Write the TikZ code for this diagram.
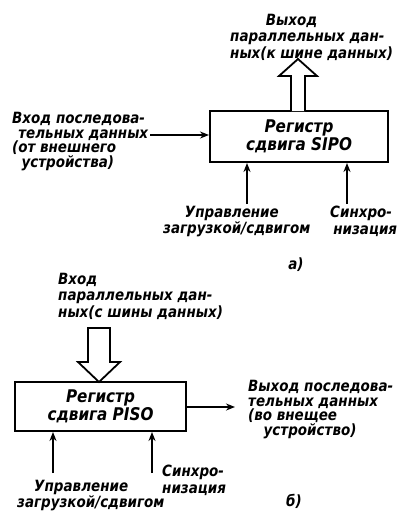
\documentclass[tikz,border=0pt]{standalone}
\usepackage{fontspec}
\setmainfont{DejaVu Sans}
\newfontfamily\lblfont[FakeStretch=0.87]{DejaVu Sans}
\usetikzlibrary{arrows.meta}
\begin{document}
\begin{tikzpicture}[x=1pt,y=-1pt,
  regbox/.style={draw, line width=2pt, minimum width=178pt, minimum height=51pt, inner sep=0pt, align=center},
  lbl/.style={inner sep=0pt, align=left, font=\lblfont\fontsize{15.5}{14.5}\selectfont\bfseries\itshape},
  lblwide/.style={lbl, font=\lblfont\fontsize{15.5}{16.3}\selectfont\bfseries\itshape},
  boxtxt/.style={font=\lblfont\fontsize{17.5}{16}\selectfont\bfseries\itshape},
  arr/.style={line width=1.8pt, -{Stealth[length=9pt,width=7pt]}},
  hollow/.style={draw, line width=1.8pt, fill=white, line join=miter}]
\useasboundingbox (0,0) rectangle (400,517);

% ---------------- (a) SIPO ----------------
\node[regbox, boxtxt] (sipo) at (299,136.5) {Регистр\\сдвига SIPO};

\node[lblwide, anchor=north west] (outA) at (230,14)
  {\hspace*{2.3em}Выход\\параллельных дан-\\ных(к шине данных)};
\coordinate (busA) at (298,111);
\draw[hollow] (busA) ++(-7,0) -- ++(0,-35) -- ++(-12,0) -- (298,59) -- ++(19,17) -- ++(-12,0) -- ++(0,35);

\node[lbl, anchor=north west] (inAtxt) at (12,112)
  {Вход последова-\\\hspace*{0.4em}тельных данных\\(от внешнего\\\hspace*{0.6em}устройства)};
\coordinate (inA) at (150,135);
\draw[arr] (inA) -- (inA -| sipo.west);

\coordinate (ctlA) at (247,204);
\coordinate (clkA) at (347,204);
\draw[arr] (ctlA) -- (ctlA |- sipo.south);
\draw[arr] (clkA) -- (clkA |- sipo.south);

\node[lblwide, anchor=north west] (ctlAtxt) at (163,206)
  {\hspace*{1.4em}Управление\\загрузкой/сдвигом};
\node[lblwide, anchor=north west] (clkAtxt) at (330,206)
  {Синхро-\\\hspace*{0.2em}низация};

\node[lbl, anchor=center] (capA) at (296,265) {а)};

% ---------------- (b) PISO ----------------
\node[regbox, boxtxt, minimum width=171pt, minimum height=49pt] (piso) at (100.5,406.5) {Регистр\\сдвига PISO};

\node[lblwide, anchor=north west] (inBtxt) at (58,273)
  {Вход\\параллельных дан-\\ных(с шины данных)};
\coordinate (busB) at (99,382);
\draw[hollow] (busB) -- ++(-21,-20) -- ++(10,0) -- ++(0,-34) -- ++(22,0) -- ++(0,34) -- ++(10,0) -- cycle;

\coordinate (outB) at (235,407);
\draw[arr] (outB -| piso.east) -- (outB);
\node[lbl, anchor=north west] (outBtxt) at (248,380)
  {Выход последова-\\тельных данных\\(во внещее\\\hspace*{1em}устройство)};

\coordinate (ctlB) at (53,473);
\coordinate (clkB) at (152,473);
\draw[arr] (ctlB) -- (ctlB |- piso.south);
\draw[arr] (clkB) -- (clkB |- piso.south);

\node[lblwide, anchor=north west] (ctlBtxt) at (17,480)
  {\hspace*{1.1em}Управление\\загрузкой/сдвигом};
\node[lblwide, anchor=north west] (clkBtxt) at (162,465)
  {Синхро-\\низация};

\node[lbl, anchor=center] (capB) at (294,501) {б)};
\end{tikzpicture}
\end{document}
